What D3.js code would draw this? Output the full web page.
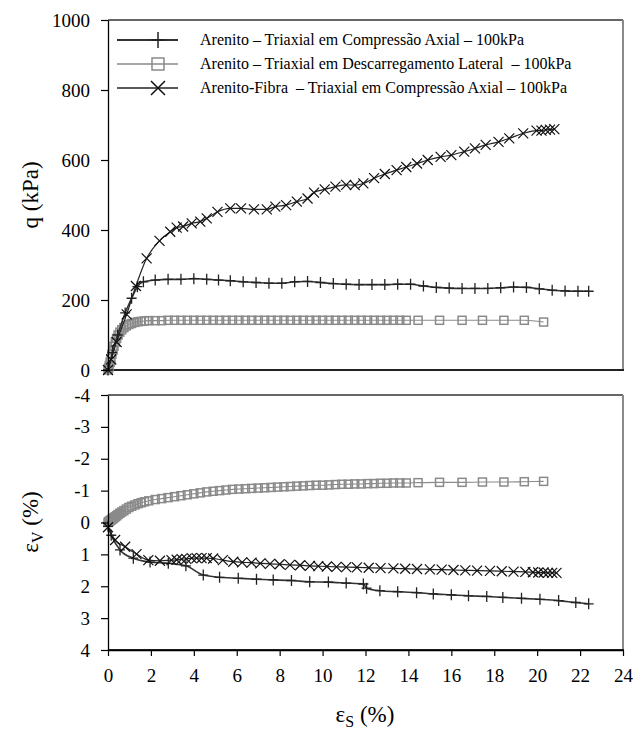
<!DOCTYPE html>
<html>
<head>
<meta charset="utf-8">
<script src="https://cdn.jsdelivr.net/npm/d3@7"></script>
<style>
html,body{margin:0;padding:0;background:#fff;}
svg{display:block;}
text{font-family:"Liberation Serif","Times New Roman",serif;fill:#000;}
</style>
</head>
<body>
<svg id="c" width="633" height="733"></svg>
<script>
// ---------- data ----------
const seriesNames = [
  "Arenito \u2013 Triaxial em Compress\u00e3o Axial \u2013 100kPa",
  "Arenito \u2013 Triaxial em Descarregamento Lateral  \u2013 100kPa",
  "Arenito-Fibra  \u2013 Triaxial em Compress\u00e3o Axial \u2013 100kPa"
];
const strainTicks = [0,2,4,6,8,10,12,14,16,18,20,22,24];
const qTicks = [0,200,400,600,800,1000];
const volTicks = [-4,-3,-2,-1,0,1,2,3,4];

// Series 1: Arenito - compressão axial (q)
const plusTopStrain = [0,0.2,0.45,0.8,1.1,1.37,1.65,2.2,2.8,3.4,4.0,4.6,5.15,5.7,6.3,6.9,7.5,8.1,8.7,9.3,9.9,10.5,11.1,11.7,12.3,12.9,13.5,14.1,14.7,15.3,15.9,16.5,17.1,17.7,18.3,18.9,19.5,20.1,20.7,21.3,21.9,22.4];
const plusTopQ = [0,50,100,163,205,238,252,257,259,259,261,259,257,255,252,250,248,248,252,253,250,247,245,244,244,244,245,245,240,236,234,233,233,233,235,237,236,232,228,226,225,225];
// Series 1: volumetric strain
const plusBotStrain = [0,0.15,0.56,1.18,1.96,2.81,3.63,4.44,5.2,6.07,6.92,7.7,8.55,9.4,10.27,11.1,11.9,12.05,12.67,13.5,14.38,15.16,16.0,16.8,17.65,18.4,19.27,20.13,21.0,21.8,22.4];
const plusBotVol = [0.12,0.4,0.86,1.12,1.24,1.28,1.36,1.65,1.72,1.75,1.78,1.8,1.82,1.86,1.87,1.9,1.93,2.06,2.14,2.17,2.2,2.24,2.27,2.3,2.32,2.35,2.38,2.41,2.45,2.51,2.55];

// Series 2: Arenito - descarregamento lateral
const sqStrain = [0,0.03,0.06,0.1,0.14,0.18,0.23,0.28,0.34,0.4,0.47,0.55,0.64,0.74,0.85,0.97,1.1,1.25,1.4,1.55,1.7,1.9,2.2,2.5,2.8,3.1,3.4,3.7,4.0,4.3,4.6,4.9,5.2,5.5,5.8,6.1,6.4,6.7,7.0,7.3,7.6,7.9,8.2,8.5,8.8,9.1,9.4,9.7,10.0,10.3,10.6,10.9,11.2,11.5,11.8,12.1,12.4,12.7,13.0,13.3,13.6,13.9,14.45,15.45,16.5,17.45,18.45,19.4,20.3];
const sqQ = [0,6,13,22,33,45,57,68,80,90,100,108,115,121,126,130,133,136,138,139,140,141,141,141,142,142,142,142,142,142,142,142,142,142,142,142,142,142,142,142,142,142,142,142,142,142,142,142,142,142,142,142,142,142,142,142,142,142,142,142,142,142,142,142,142,142,142,142,137];
const sqVol = [0,-0.02,-0.04,-0.06,-0.08,-0.1,-0.12,-0.15,-0.18,-0.21,-0.25,-0.29,-0.33,-0.37,-0.42,-0.47,-0.51,-0.55,-0.59,-0.62,-0.65,-0.68,-0.72,-0.75,-0.78,-0.81,-0.84,-0.87,-0.9,-0.93,-0.96,-0.98,-1.0,-1.02,-1.04,-1.05,-1.06,-1.07,-1.08,-1.09,-1.1,-1.11,-1.12,-1.13,-1.14,-1.15,-1.16,-1.17,-1.17,-1.18,-1.19,-1.2,-1.2,-1.21,-1.21,-1.22,-1.22,-1.23,-1.23,-1.24,-1.24,-1.24,-1.25,-1.26,-1.26,-1.27,-1.27,-1.28,-1.29];

// Series 3: Arenito-Fibra - compressão axial
const xTopStrain = [0,0.15,0.4,0.87,1.3,1.8,2.4,2.9,3.2,3.5,3.9,4.3,4.6,5.1,5.7,6.2,6.8,7.4,7.8,8.3,8.8,9.3,9.6,10.1,10.6,11.1,11.5,11.9,12.4,12.9,13.45,13.9,14.4,14.9,15.5,16.0,16.6,17.1,17.6,18.2,18.7,19.35,19.97,20.2,20.4,20.6,20.8];
const xTopQ = [0,30,80,159,240,319,369,395,407,410,419,424,433,452,462,462,459,459,467,471,481,490,507,516,524,529,528,533,548,560,571,580,590,600,609,614,624,633,643,652,662,676,684,684,686,687,688];
const xBotStrain = [0,0.33,0.8,1.33,1.88,2.42,2.96,3.2,3.43,3.65,3.9,4.13,4.36,4.6,4.9,5.35,5.84,6.25,6.69,7.1,7.55,8.0,8.48,8.95,9.41,9.8,10.2,10.65,11.1,11.6,12.15,12.7,13.3,13.85,14.4,15.0,15.55,16.1,16.65,17.2,17.8,18.35,18.9,19.45,19.8,20.05,20.3,20.5,20.7,20.9];
const xBotVol = [0.15,0.55,0.76,0.99,1.18,1.2,1.18,1.17,1.15,1.14,1.12,1.12,1.12,1.12,1.13,1.18,1.23,1.25,1.26,1.28,1.3,1.31,1.33,1.34,1.36,1.37,1.38,1.39,1.4,1.41,1.42,1.43,1.44,1.45,1.46,1.47,1.48,1.49,1.5,1.51,1.52,1.53,1.54,1.55,1.56,1.57,1.57,1.58,1.58,1.58];

// ---------- chart ----------
const svg = d3.select("#c");
const X0 = 108, X1 = 623;
const x = d3.scaleLinear().domain([0,24]).range([X0,X1]);
const yT = d3.scaleLinear().domain([0,1000]).range([370,20]);
const yB = d3.scaleLinear().domain([-4,4]).range([395,650]);

const zip = (a,b) => a.map((v,i)=>[v,b[i]]);

const styles = [
  {stroke:"#333", lw:1.6, mstroke:"#222", mw:1.3, type:"plus"},
  {stroke:"#8a8a8a", lw:1.1, mstroke:"#8a8a8a", mw:1.5, type:"square"},
  {stroke:"#222", lw:1.2, mstroke:"#111", mw:1.2, type:"cross"}
];
function marker(g, type, s){
  if(type==="plus"){
    g.append("path").attr("d","M-5,0H5M0,-5.5V5.5").attr("stroke",s.mstroke).attr("stroke-width",s.mw).attr("fill","none");
  } else if(type==="square"){
    g.append("rect").attr("x",-4).attr("y",-4).attr("width",8).attr("height",8).attr("stroke",s.mstroke).attr("stroke-width",s.mw).attr("fill","none");
  } else {
    g.append("path").attr("d","M-5,-5L5,5M-5,5L5,-5").attr("stroke",s.mstroke).attr("stroke-width",s.mw).attr("fill","none");
  }
}
function drawSeries(data, yScale, idx){
  const s = styles[idx];
  const line = d3.line().x(d=>x(d[0])).y(d=>yScale(d[1])).curve(d3.curveMonotoneX);
  svg.append("path").datum(data).attr("d",line).attr("fill","none").attr("stroke",s.stroke).attr("stroke-width",s.lw);
  const gm = svg.append("g");
  data.forEach(d=>{
    const g = gm.append("g").attr("transform",`translate(${x(d[0])},${yScale(d[1])})`);
    marker(g, s.type, s);
  });
}

// frames
function frame(yScale){
  const [yb, yt] = yScale.range()[0] > yScale.range()[1] ? [yScale.range()[0], yScale.range()[1]] : [yScale.range()[1], yScale.range()[0]];
  svg.append("line").attr("x1",X0).attr("x2",X1).attr("y1",yt).attr("y2",yt).attr("stroke","#333").attr("stroke-width",1.5);
  svg.append("line").attr("x1",X1).attr("x2",X1).attr("y1",yt).attr("y2",yb+1).attr("stroke","#8a8a8a").attr("stroke-width",2);
  svg.append("line").attr("x1",X0).attr("x2",X1+1).attr("y1",yb).attr("y2",yb).attr("stroke","#222").attr("stroke-width",1.8);
}
frame(yT);
frame(yB);

// series
drawSeries(zip(sqStrain,sqQ), yT, 1);
drawSeries(zip(plusTopStrain,plusTopQ), yT, 0);
drawSeries(zip(xTopStrain,xTopQ), yT, 2);
drawSeries(zip(sqStrain,sqVol), yB, 1);
drawSeries(zip(plusBotStrain,plusBotVol), yB, 0);
drawSeries(zip(xBotStrain,xBotVol), yB, 2);

// axes
function styleAxis(g){
  g.selectAll("path.domain").attr("stroke","#000").attr("stroke-width",1.3);
  g.selectAll(".tick line").attr("stroke","#000").attr("stroke-width",1.2);
  g.selectAll(".tick text").attr("font-family","Liberation Serif, serif").attr("font-size",19).attr("fill","#000");
}
const axT = svg.append("g").attr("transform",`translate(${X0},0)`)
  .call(d3.axisLeft(yT).tickValues(qTicks).tickSize(7).tickSizeOuter(0).tickPadding(11).tickFormat(d3.format("d")));
styleAxis(axT);
const axB = svg.append("g").attr("transform",`translate(${X0},0)`)
  .call(d3.axisLeft(yB).tickValues(volTicks).tickSize(7).tickSizeOuter(0).tickPadding(11).tickFormat(d=> d<0 ? "-"+Math.abs(d) : String(d)));
styleAxis(axB);
const axX = svg.append("g").attr("transform",`translate(0,650)`)
  .call(d3.axisBottom(x).tickValues(strainTicks).tickSize(6).tickSizeOuter(0).tickPadding(13).tickFormat(d3.format("d")));
styleAxis(axX);

// axis titles
svg.append("text").attr("transform","translate(38,195) rotate(-90)").attr("text-anchor","middle")
  .attr("font-size",23).text("q (kPa)");
const tv = svg.append("text").attr("transform","translate(38,522) rotate(-90)").attr("text-anchor","middle").attr("font-size",23);
tv.append("tspan").text("\u03b5");
tv.append("tspan").attr("font-size",16).attr("dy",5).text("V");
tv.append("tspan").attr("dy",-5).text(" (%)");
const ts = svg.append("text").attr("x",365).attr("y",722).attr("text-anchor","middle").attr("font-size",23);
ts.append("tspan").text("\u03b5");
ts.append("tspan").attr("font-size",16).attr("dy",5).text("S");
ts.append("tspan").attr("dy",-5).text(" (%)");

// legend
const legY = [40,64,88];
seriesNames.forEach((name,i)=>{
  const s = styles[i];
  svg.append("line").attr("x1",117).attr("x2",178).attr("y1",legY[i]).attr("y2",legY[i]).attr("stroke",s.stroke).attr("stroke-width",s.lw+0.3);
  const g = svg.append("g").attr("transform",`translate(158,${legY[i]})`);
  const big = {mstroke:s.mstroke, mw:s.mw};
  if(s.type==="plus") g.append("path").attr("d","M-7,0H7M0,-8V8").attr("stroke",s.mstroke).attr("stroke-width",1.5).attr("fill","none");
  else if(s.type==="square") g.append("rect").attr("x",-6).attr("y",-6).attr("width",12).attr("height",12).attr("stroke",s.mstroke).attr("stroke-width",1.5).attr("fill","none");
  else g.append("path").attr("d","M-7,-7L7,7M-7,7L7,-7").attr("stroke",s.mstroke).attr("stroke-width",1.5).attr("fill","none");
  svg.append("text").attr("x",200).attr("y",legY[i]+5).attr("font-size",16).style("white-space","pre").text(name);
});
</script>
</body>
</html>
